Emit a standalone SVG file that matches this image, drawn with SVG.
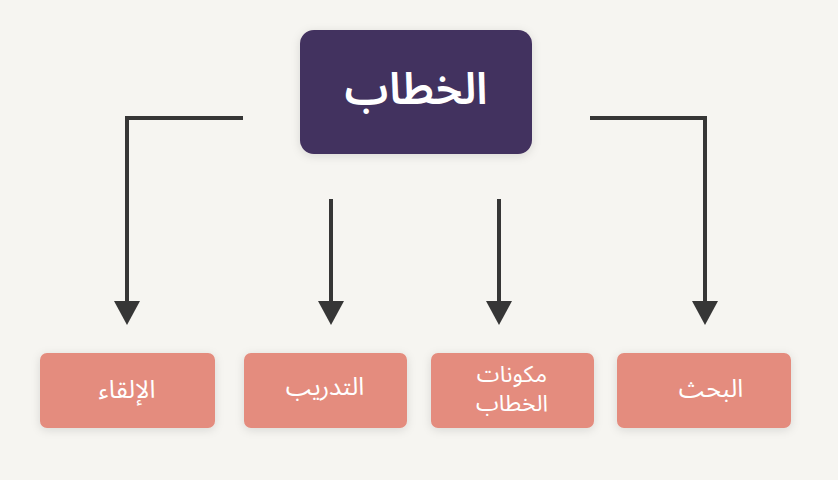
<svg xmlns="http://www.w3.org/2000/svg" width="838" height="480" viewBox="0 0 838 480">
<defs>
<filter id="sh" x="-20%" y="-30%" width="140%" height="160%">
<feDropShadow dx="0" dy="2" stdDeviation="5" flood-color="#000" flood-opacity="0.12"/>
</filter>
<marker id="ah" markerWidth="24" markerHeight="26" refX="1" refY="13" orient="auto" markerUnits="userSpaceOnUse" viewBox="0 0 24 26">
<path d="M0,0 L24,13 L0,26 Z" fill="#363636"/>
</marker>
<style>
.c{fill:none;stroke:#363636;stroke-width:4}
.leaf{fill:#e48c7e;filter:url(#sh)}
.lt{font-family:"Noto Sans Arabic","Noto Sans","DejaVu Sans",sans-serif;font-size:25px;fill:#ffffff;text-anchor:middle}
.lt2{font-size:23px}
.tt{font-family:"Noto Sans Arabic","Noto Sans","DejaVu Sans",sans-serif;font-size:44px;font-weight:600;fill:#ffffff;text-anchor:middle}
</style>
</defs>
<rect width="838" height="480" fill="#f6f5f1"/>
<g id="connectors">
<path class="c" d="M243,118 H127 V302" marker-end="url(#ah)"/>
<path class="c" d="M590,118 H705 V302" marker-end="url(#ah)"/>
<path class="c" d="M331,199 V302" marker-end="url(#ah)"/>
<path class="c" d="M499,199 V302" marker-end="url(#ah)"/>
</g>
<g id="root">
<rect x="300" y="30" width="232" height="124" rx="14" fill="#43305f" filter="url(#sh)"/>
<text class="tt" x="416" y="104" direction="rtl">الخطاب</text>
</g>
<g id="n1">
<rect class="leaf" x="40" y="353" width="175" height="75" rx="7"/>
<text class="lt" x="127" y="398" direction="rtl">الإلقاء</text>
</g>
<g id="n2">
<rect class="leaf" x="244" y="353" width="163" height="75" rx="7"/>
<text class="lt" x="325" y="395" direction="rtl">التدريب</text>
</g>
<g id="n3">
<rect class="leaf" x="431" y="353" width="163" height="75" rx="7"/>
<text class="lt lt2" x="512" y="382" direction="rtl">مكونات</text>
<text class="lt lt2" x="512" y="411" direction="rtl">الخطاب</text>
</g>
<g id="n4">
<rect class="leaf" x="617" y="353" width="174" height="75" rx="7"/>
<text class="lt" x="711" y="397" direction="rtl">البحث</text>
</g>
</svg>
